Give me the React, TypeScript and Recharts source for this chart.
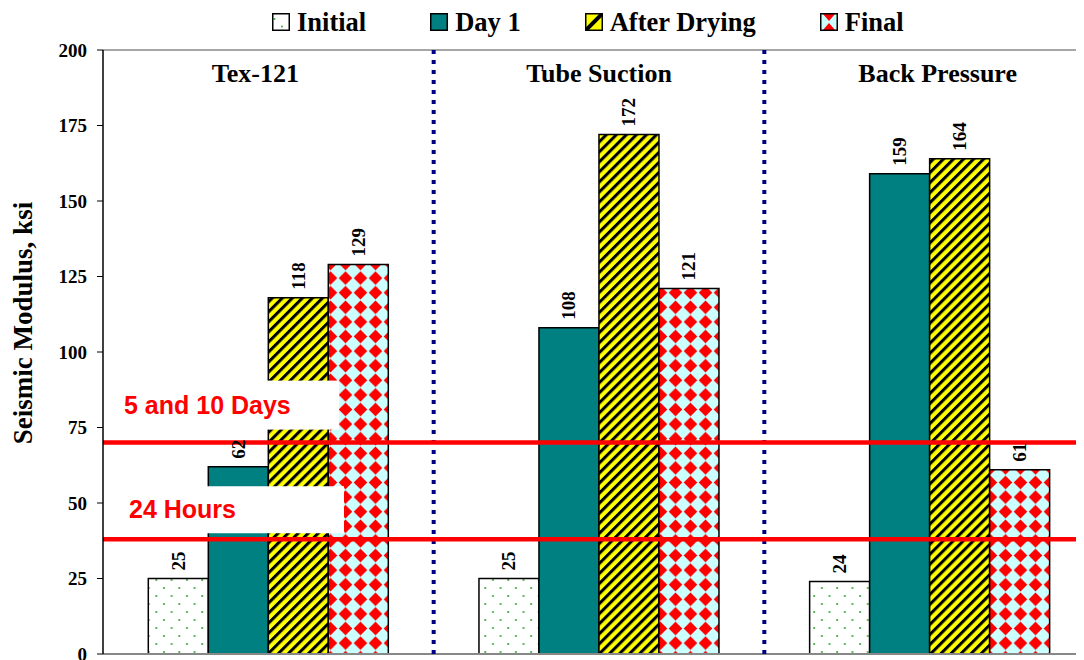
import React from "react";
import {
  BarChart,
  Bar,
  XAxis,
  YAxis,
  ReferenceLine,
  LabelList,
} from "recharts";

// values
const groups = ["Tex-121", "Tube Suction", "Back Pressure"];
const initial = [25, 25, 24];
const day1 = [62, 108, 159];
const afterDrying = [118, 172, 164];
const final = [129, 121, 61];
const yTicks = [0, 25, 50, 75, 100, 125, 150, 175, 200];
const seriesKeys = ["initial", "day1", "afterDrying", "final"];
const seriesNames = ["Initial", "Day 1", "After Drying", "Final"];
const thresholdValues = [70, 38];
const thresholdLabels = ["5 and 10 Days", "24 Hours"];

const data = groups.map((group, i) => ({
  group,
  initial: initial[i],
  day1: day1[i],
  afterDrying: afterDrying[i],
  final: final[i],
}));

const SERIF = '"Liberation Serif", "Times New Roman", serif';
const SANS = '"Liberation Sans", Arial, sans-serif';

const FILLS: Record<string, string> = {
  initial: "url(#dotsPat)",
  day1: "#008080",
  afterDrying: "url(#stripePat)",
  final: "url(#diamondPat)",
};

// small nudges so group titles sit where the original put them
const TITLE_DX: Record<string, number> = {
  "Tex-121": -13,
  "Tube Suction": 0,
  "Back Pressure": 8,
};

// white box behind each threshold caption, relative to the line
const BOX = [
  { top: 62, height: 49, width: 234, textDx: 21, textDy: 29 },
  { top: 53, height: 47, width: 239, textDx: 26, textDy: 21 },
];

const renderValue = (props: any) => {
  const { x, y, width, value } = props;
  const cx = Number(x) + Number(width) / 2;
  const ty = Number(y) - 8;
  return (
    <text
      x={cx}
      y={ty}
      transform={`rotate(-90 ${cx} ${ty})`}
      textAnchor="start"
      dominantBaseline="central"
      fontFamily={SERIF}
      fontWeight="bold"
      fontSize={19}
      fill="#000"
    >
      {value}
    </text>
  );
};

const renderTitle = (props: any) => {
  const { x, payload } = props;
  const name = String(payload.value);
  return (
    <text
      x={Number(x) + (TITLE_DX[name] || 0)}
      y={74}
      textAnchor="middle"
      fontFamily={SERIF}
      fontWeight="bold"
      fontSize={26}
      fill="#000"
    >
      {name}
    </text>
  );
};

const thresholdLabel = (idx: number) => (props: any) => {
  const vb = props.viewBox || {};
  const box = BOX[idx];
  const x0 = Number(vb.x);
  const y0 = Number(vb.y);
  return (
    <g>
      <rect x={x0 + 2} y={y0 - box.top} width={box.width} height={box.height} fill="#fff" />
      <text
        x={x0 + box.textDx}
        y={y0 - box.textDy}
        fontFamily={SANS}
        fontWeight="bold"
        fontSize={25}
        fill="#FF0000"
      >
        {thresholdLabels[idx]}
      </text>
    </g>
  );
};

const yLabel = () => (
  <text
    x={15}
    y={315}
    transform="rotate(-90 15 315)"
    textAnchor="middle"
    dominantBaseline="central"
    fontFamily={SERIF}
    fontWeight="bold"
    fontSize={27}
    fill="#000"
  >
    Seismic Modulus, ksi
  </text>
);

const Swatch = ({ k }: { k: string }) => (
  <svg width={18} height={18} style={{ display: "block" }}>
    {k === "initial" && (
      <>
        <rect x={0.75} y={0.75} width={16.5} height={16.5} fill="#fff" />
        <circle cx={2.5} cy={6} r={1} fill="#3DAA3D" />
        <circle cx={10} cy={13.5} r={1} fill="#3DAA3D" />
      </>
    )}
    {k === "day1" && <rect x={0.75} y={0.75} width={16.5} height={16.5} fill="#008080" />}
    {k === "afterDrying" && (
      <>
        <rect x={0.75} y={0.75} width={16.5} height={16.5} fill="#FFFF00" />
        <line x1={1} y1={17} x2={17} y2={1} stroke="#000" strokeWidth={4} />
      </>
    )}
    {k === "final" && (
      <>
        <rect x={0.75} y={0.75} width={16.5} height={16.5} fill="#CCFFFF" />
        <polygon points="3,1 15,1 9,8" fill="#FF0000" />
        <polygon points="3,17 15,17 9,10" fill="#FF0000" />
      </>
    )}
    <rect x={0.75} y={0.75} width={16.5} height={16.5} fill="none" stroke="#000" strokeWidth={1.5} />
  </svg>
);

export default function App() {
  return (
    <div style={{ position: "relative", width: 1076, height: 652, overflow: "hidden" }}>
      <div
        style={{
          position: "absolute",
          left: 264,
          top: 1,
          display: "flex",
          gap: 64,
          fontFamily: SERIF,
          fontWeight: "bold",
          fontSize: 26.5,
          lineHeight: "26px",
          zIndex: 2,
        }}
      >
        {seriesKeys.map((k, i) => (
          <div key={k} style={{ display: "flex", alignItems: "center", gap: 7 }}>
            <Swatch k={k} />
            <span>{seriesNames[i]}</span>
          </div>
        ))}
      </div>
      <BarChart
        width={1090}
        height={652}
        data={data}
        margin={{ top: 41, right: 3, bottom: 6, left: 0 }}
        barCategoryGap="13.7%"
        barGap={0}
      >
        <defs>
          <pattern id="dotsPat" patternUnits="userSpaceOnUse" width={15.3} height={16}>
            <rect width={15.3} height={16} fill="#fff" />
            <circle cx={3} cy={4} r={1.1} fill="#3DAA3D" />
            <circle cx={10.65} cy={12} r={1.1} fill="#3DAA3D" />
          </pattern>
          <pattern
            id="stripePat"
            patternUnits="userSpaceOnUse"
            width={7.1}
            height={7.1}
            patternTransform="rotate(45)"
          >
            <rect width={7.1} height={7.1} fill="#FFFF00" />
            <rect width={3} height={7.1} fill="#000" />
          </pattern>
          <pattern id="diamondPat" patternUnits="userSpaceOnUse" width={15} height={14.6}>
            <rect width={15} height={14.6} fill="#CCFFFF" />
            <polygon points="7.5,0.5 14.3,7.3 7.5,14.1 0.7,7.3" fill="#FF0000" />
          </pattern>
        </defs>
        <XAxis
          dataKey="group"
          orientation="top"
          height={1}
          axisLine={false}
          tickLine={false}
          tick={renderTitle}
          interval={0}
        />
        <YAxis
          domain={[0, 200]}
          ticks={yTicks}
          interval={0}
          width={95}
          tickSize={6}
          tickMargin={10}
          axisLine={{ stroke: "#000", strokeWidth: 1.5 }}
          tickLine={{ stroke: "#000", strokeWidth: 1 }}
          tick={{ fill: "#000", fontSize: 19, fontWeight: "bold", fontFamily: SERIF }}
          label={{ content: yLabel }}
        />
        <ReferenceLine y={200} stroke="#888" strokeWidth={1.5} />
        <ReferenceLine y={0} stroke="#888" strokeWidth={2} />
        {groups.slice(1).map((g) => (
          <ReferenceLine
            key={g}
            x={g}
            position="start"
            stroke="#000080"
            strokeWidth={4}
            strokeDasharray="4 6"
          />
        ))}
        {seriesKeys.map((k) => (
          <Bar
            key={k}
            dataKey={k}
            name={k}
            fill={FILLS[k]}
            stroke="#000"
            strokeWidth={1.5}
            isAnimationActive={false}
          >
            <LabelList dataKey={k} content={renderValue} />
          </Bar>
        ))}
        {thresholdValues.map((v, i) => (
          <ReferenceLine
            key={v}
            y={v}
            stroke="#FF0000"
            strokeWidth={4.5}
            label={{ content: thresholdLabel(i) }}
          />
        ))}
      </BarChart>
    </div>
  );
}
